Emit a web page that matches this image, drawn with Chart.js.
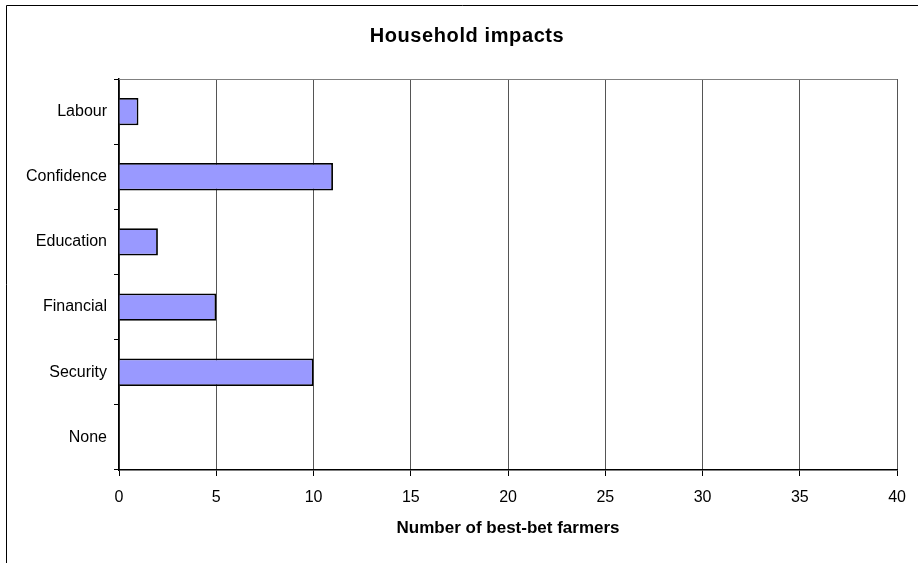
<!DOCTYPE html>
<html><head><meta charset="utf-8">
<script src="https://cdn.jsdelivr.net/npm/chart.js@4"></script>
<style>html,body{margin:0;padding:0;background:#fff}#c{display:block}</style>
</head><body>
<canvas id="c" width="918" height="563"></canvas>
<script>
const categories = ["Labour", "Confidence", "Education", "Financial", "Security", "None"];
const farmers = [1, 11, 2, 5, 10, 0];
const xTicks = [0, 5, 10, 15, 20, 25, 30, 35, 40];
const chartTitle = "Household impacts";
const xTitle = "Number of best-bet farmers";

const FONT = "'Liberation Sans', Arial, sans-serif";

const decor = {
  id: 'decor',
  beforeDraw(chart) {
    const ctx = chart.ctx;
    ctx.save();
    ctx.fillStyle = '#fff';
    ctx.fillRect(0, 0, chart.width, chart.height);
    ctx.restore();
  },
  afterDraw(chart) {
    const ctx = chart.ctx, a = chart.chartArea;
    ctx.save();
    ctx.strokeStyle = '#808080';
    ctx.lineWidth = 1;
    ctx.beginPath();
    ctx.moveTo(a.left, a.top + 0.5); ctx.lineTo(a.right, a.top + 0.5);
    ctx.stroke();
    ctx.strokeStyle = '#000';
    ctx.beginPath();
    ctx.moveTo(6.5, chart.height + 5); ctx.lineTo(6.5, 5.5); ctx.lineTo(chart.width + 5, 5.5);
    ctx.stroke();
    ctx.fillStyle = '#000';
    ctx.textAlign = 'center';
    ctx.textBaseline = 'middle';
    ctx.font = 'bold 20px ' + FONT;
    if ('letterSpacing' in ctx) ctx.letterSpacing = '0.6px';
    ctx.fillText(chartTitle, 467, 36);
    if ('letterSpacing' in ctx) ctx.letterSpacing = '0px';
    ctx.font = 'bold 17px ' + FONT;
    ctx.fillText(xTitle, (a.left + a.right) / 2, 528);
    ctx.restore();
  }
};

new Chart(document.getElementById('c'), {
  type: 'bar',
  data: {
    labels: categories,
    datasets: [{
      data: farmers,
      backgroundColor: '#9999FF',
      borderColor: '#000',
      borderWidth: 1.8,
      barPercentage: 0.42,
      categoryPercentage: 1.0
    }]
  },
  options: {
    indexAxis: 'y',
    responsive: false,
    animation: false,
    events: [],
    layout: { padding: { top: 79, right: 20, left: 0, bottom: 0 } },
    plugins: { legend: { display: false }, title: { display: false }, tooltip: { enabled: false } },
    scales: {
      x: {
        min: 0, max: 40,
        afterFit(s) { s.height = 93; },
        afterBuildTicks(s) { s.ticks = xTicks.map(v => ({ value: v })); },
        grid: { color: '#555', lineWidth: 1, tickLength: 6, tickColor: '#000' },
        border: { color: '#000', width: 1.5 },
        ticks: { color: '#000', font: { family: FONT, size: 16 }, padding: 12, maxRotation: 0 }
      },
      y: {
        afterFit(s) { s.width = 119; },
        grid: { offset: true, drawOnChartArea: false, tickLength: 5, tickColor: '#000' },
        border: { color: '#000', width: 1.5 },
        ticks: { color: '#000', font: { family: FONT, size: 16 }, padding: 7 }
      }
    }
  },
  plugins: [decor]
});
</script>
</body></html>
